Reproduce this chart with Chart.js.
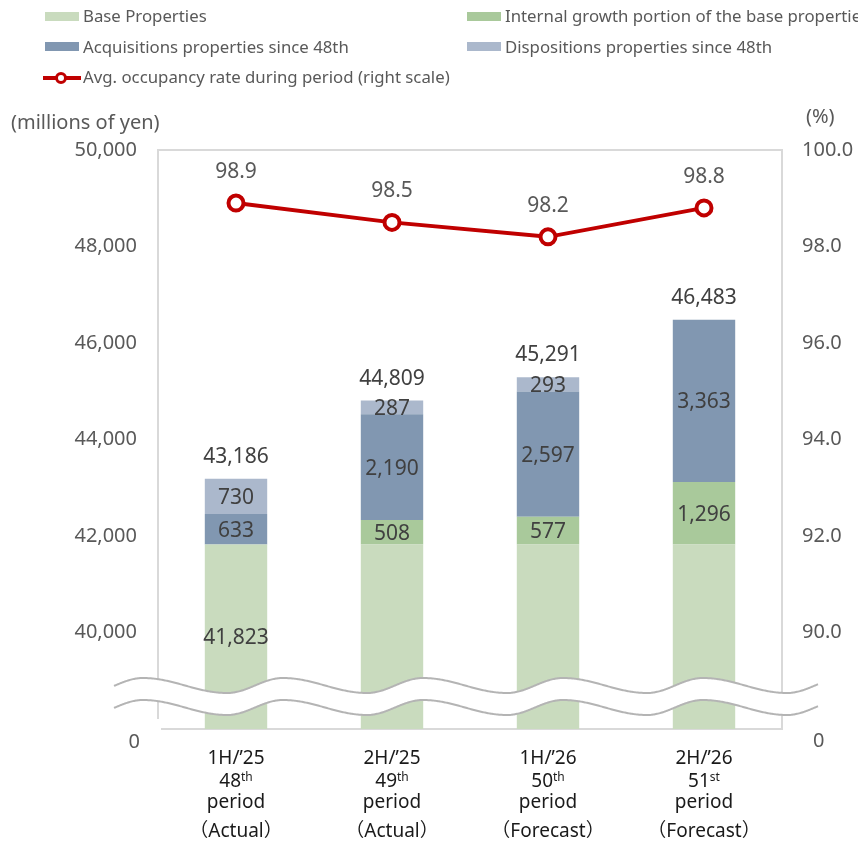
<!DOCTYPE html>
<html><head><meta charset="utf-8">
<script src="https://cdn.jsdelivr.net/npm/chart.js@4.4.0/dist/chart.umd.min.js"></script>
<style>html,body{margin:0;padding:0;background:#fff;}#wrap{position:relative;width:858px;height:843px;}</style>
</head><body><div id="wrap"><canvas id="c" width="858" height="843"></canvas></div>
<script>
// ---- data ----
const categories = ["1H/\u201925", "2H/\u201925", "1H/\u201926", "2H/\u201926"];
const periodNums = ["48", "49", "50", "51"];
const periodSuffix = ["th", "th", "th", "st"];
const periodWord = ["period", "period", "period", "period"];
const periodStatus = ["\uff08Actual\uff09", "\uff08Actual\uff09", "\uff08Forecast\uff09", "\uff08Forecast\uff09"];
const baseProps = [41823, 41823, 41823, 41823];
const internalGrowth = [0, 508, 577, 1296];
const acquisitions = [633, 2190, 2597, 3363];
const dispositions = [730, 287, 293, 0];
const totals = [43186, 44809, 45291, 46483];
const occupancy = [98.9, 98.5, 98.2, 98.8];
const leftAxis = { min: 38000, max: 50000, step: 2000, zeroLabel: "0" };
const rightAxis = { min: 88, max: 100, step: 2, zeroLabel: "0" };
const seriesNames = ["Base Properties", "Internal growth portion of the base properties",
  "Acquisitions properties since 48th", "Dispositions properties since 48th",
  "Avg. occupancy rate during period (right scale)"];

const FONT = '"Noto Sans", "Noto Sans CJK JP", sans-serif';
const C_BASE = '#c9dbbe', C_INT = '#a9c99b', C_ACQ = '#8197b1', C_DIS = '#abb8cc', C_RED = '#c00000';
const TXT_GRAY = '#595959', TXT_DARK = '#404040';

function fmt(v) { return v.toLocaleString('en-US'); }

const framePlugin = {
  id: 'frame',
  beforeDatasetsDraw(chart) {
    const { ctx, chartArea: a } = chart;
    ctx.save();
    ctx.strokeStyle = '#d9d9d9'; ctx.lineWidth = 2;
    ctx.beginPath();
    ctx.moveTo(a.left, a.bottom - 10); ctx.lineTo(a.left, a.top); ctx.lineTo(a.right, a.top);
    ctx.lineTo(a.right, a.bottom); ctx.lineTo(a.left + 3, a.bottom);
    ctx.stroke();
    ctx.restore();
  }
};

function waveY(x, mid) {
  const P = 140, x0 = 143, A = 7.5;
  const t = (((x - x0) % P) + P) % P / P;
  if (t < 0.6) return mid - A * Math.cos(Math.PI * t / 0.6);
  return mid + A * Math.cos(Math.PI * (t - 0.6) / 0.4);
}

const wavePlugin = {
  id: 'wave',
  afterDatasetsDraw(chart) {
    const { ctx, chartArea: a } = chart;
    const mid = a.bottom - 43.5, gap = 22, x1 = a.left - 44, x2 = a.right + 36;
    ctx.save();
    ctx.beginPath();
    for (let x = x1; x <= x2; x++) { const y = waveY(x, mid); x === x1 ? ctx.moveTo(x, y) : ctx.lineTo(x, y); }
    for (let x = x2; x >= x1; x--) ctx.lineTo(x, waveY(x, mid) + gap);
    ctx.closePath();
    ctx.fillStyle = '#fff'; ctx.fill();
    ctx.strokeStyle = '#b4b4b4'; ctx.lineWidth = 2;
    for (const off of [0, gap]) {
      ctx.beginPath();
      for (let x = x1; x <= x2; x++) { const y = waveY(x, mid) + off; x === x1 ? ctx.moveTo(x, y) : ctx.lineTo(x, y); }
      ctx.stroke();
    }
    ctx.restore();
  }
};

const labelPlugin = {
  id: 'labels',
  afterDraw(chart) {
    const { ctx, chartArea: a, scales } = chart;
    ctx.save();
    // segment labels
    ctx.font = '21px ' + FONT; ctx.textAlign = 'center'; ctx.textBaseline = 'alphabetic';
    chart.data.datasets.forEach((ds, di) => {
      if (ds.type === 'line') return;
      const meta = chart.getDatasetMeta(di);
      meta.data.forEach((el, i) => {
        const v = ds.data[i];
        if (!v) return;
        if (ds.labelOnly && !ds.labelOnly.includes(i)) return;
        const top = Math.max(Math.min(el.y, el.base), a.top);
        const bot = Math.min(Math.max(el.y, el.base), a.bottom);
        ctx.fillStyle = TXT_DARK;
        ctx.fillText(fmt(v), el.x, (top + bot) / 2 + 7.5);
      });
    });
    // totals
    const y = scales.y, x = scales.x;
    totals.forEach((t, i) => {
      const sum = baseProps[i] + internalGrowth[i] + acquisitions[i] + dispositions[i];
      ctx.fillStyle = TXT_DARK;
      ctx.fillText(fmt(t), x.getPixelForValue(i), y.getPixelForValue(sum) - 16);
    });
    // line labels
    const lm = chart.getDatasetMeta(0);
    lm.data.forEach((p, i) => {
      ctx.fillStyle = TXT_GRAY;
      ctx.fillText(occupancy[i].toFixed(1), p.x, p.y - 25);
    });
    // zero labels for broken axes
    ctx.font = '20px ' + FONT;
    ctx.fillStyle = TXT_GRAY;
    ctx.textAlign = 'right'; ctx.fillText(leftAxis.zeroLabel, a.left - 18, a.bottom + 19);
    ctx.textAlign = 'left'; ctx.fillText(rightAxis.zeroLabel, a.right + 31, a.bottom + 18);
    // axis titles
    ctx.textAlign = 'left';
    ctx.fillText('(millions of yen)', 11, 129);
    ctx.fillText('(%)', 806, 123);
    // category labels
    ctx.fillStyle = '#1a1a1a';
    categories.forEach((c, i) => {
      const cx = x.getPixelForValue(i);
      ctx.textAlign = 'center';
      ctx.font = '19px ' + FONT;
      ctx.fillText(c, cx, 764);
      const nW = ctx.measureText(periodNums[i]).width;
      ctx.font = '12px ' + FONT;
      const sW = ctx.measureText(periodSuffix[i]).width;
      const start = cx - (nW + sW) / 2;
      ctx.textAlign = 'left';
      ctx.font = '19px ' + FONT;
      ctx.fillText(periodNums[i], start, 787);
      ctx.font = '12px ' + FONT;
      ctx.fillText(periodSuffix[i], start + nW, 781);
      ctx.textAlign = 'center';
      ctx.font = '19px ' + FONT;
      ctx.fillText(periodWord[i], cx, 808);
      ctx.fillText(periodStatus[i], cx, 837);
    });
    // legend
    ctx.font = '16.8px ' + FONT; ctx.textAlign = 'left'; ctx.fillStyle = TXT_GRAY;
    const boxes = [
      { x: 45, y: 12, c: C_BASE, t: seriesNames[0], tx: 83, by: 22 },
      { x: 467, y: 12, c: C_INT, t: seriesNames[1], tx: 505, by: 22 },
      { x: 45, y: 42, c: C_ACQ, t: seriesNames[2], tx: 83, by: 53 },
      { x: 467, y: 42, c: C_DIS, t: seriesNames[3], tx: 505, by: 53 }
    ];
    boxes.forEach(b => {
      ctx.fillStyle = b.c; ctx.fillRect(b.x, b.y, 34, 9);
      ctx.fillStyle = TXT_GRAY; ctx.fillText(b.t, b.tx, b.by);
    });
    ctx.strokeStyle = C_RED; ctx.lineWidth = 4;
    ctx.beginPath(); ctx.moveTo(43, 78); ctx.lineTo(81, 78); ctx.stroke();
    ctx.beginPath(); ctx.arc(61, 78, 4.5, 0, Math.PI * 2); ctx.fillStyle = '#fff'; ctx.fill();
    ctx.lineWidth = 3; ctx.stroke();
    ctx.fillStyle = TXT_GRAY; ctx.fillText(seriesNames[4], 83, 83);
    ctx.restore();
  }
};

new Chart(document.getElementById('c'), {
  data: {
    labels: categories,
    datasets: [
      { type: 'line', label: seriesNames[4], data: occupancy, yAxisID: 'y1', order: 0,
        borderColor: C_RED, borderWidth: 4, pointRadius: 7.5, pointBorderWidth: 4,
        pointBackgroundColor: '#fff', pointBorderColor: C_RED, tension: 0 },
      { type: 'bar', label: seriesNames[0], data: baseProps, backgroundColor: C_BASE, yAxisID: 'y', order: 1, labelOnly: [0] },
      { type: 'bar', label: seriesNames[1], data: internalGrowth, backgroundColor: C_INT, yAxisID: 'y', order: 1 },
      { type: 'bar', label: seriesNames[2], data: acquisitions, backgroundColor: C_ACQ, yAxisID: 'y', order: 1 },
      { type: 'bar', label: seriesNames[3], data: dispositions, backgroundColor: C_DIS, yAxisID: 'y', order: 1 }
    ]
  },
  options: {
    responsive: false, animation: false, devicePixelRatio: 1,
    layout: { padding: { top: 150, bottom: 114, left: 0, right: 0 } },
    datasets: { bar: { barPercentage: 0.4, categoryPercentage: 1.0 } },
    plugins: { legend: { display: false }, tooltip: { enabled: false } },
    scales: {
      x: { stacked: true, ticks: { display: false }, grid: { display: false, drawTicks: false }, border: { display: false },
        afterFit(s) { s.height = 0; } },
      y: { stacked: true, position: 'left', min: leftAxis.min, max: leftAxis.max,
        ticks: { stepSize: leftAxis.step, padding: 21, color: TXT_GRAY, font: { family: FONT, size: 20 },
          callback: v => v === leftAxis.min ? '' : fmt(v) },
        grid: { display: false, drawTicks: false }, border: { display: false },
        afterFit(s) { s.width = 158; } },
      y1: { position: 'right', min: rightAxis.min, max: rightAxis.max,
        ticks: { stepSize: rightAxis.step, padding: 20, color: TXT_GRAY, font: { family: FONT, size: 20 },
          callback: v => v === rightAxis.min ? '' : v.toFixed(1) },
        grid: { display: false, drawTicks: false }, border: { display: false },
        afterFit(s) { s.width = 76; } }
    }
  },
  plugins: [framePlugin, wavePlugin, labelPlugin]
});
</script></body></html>
